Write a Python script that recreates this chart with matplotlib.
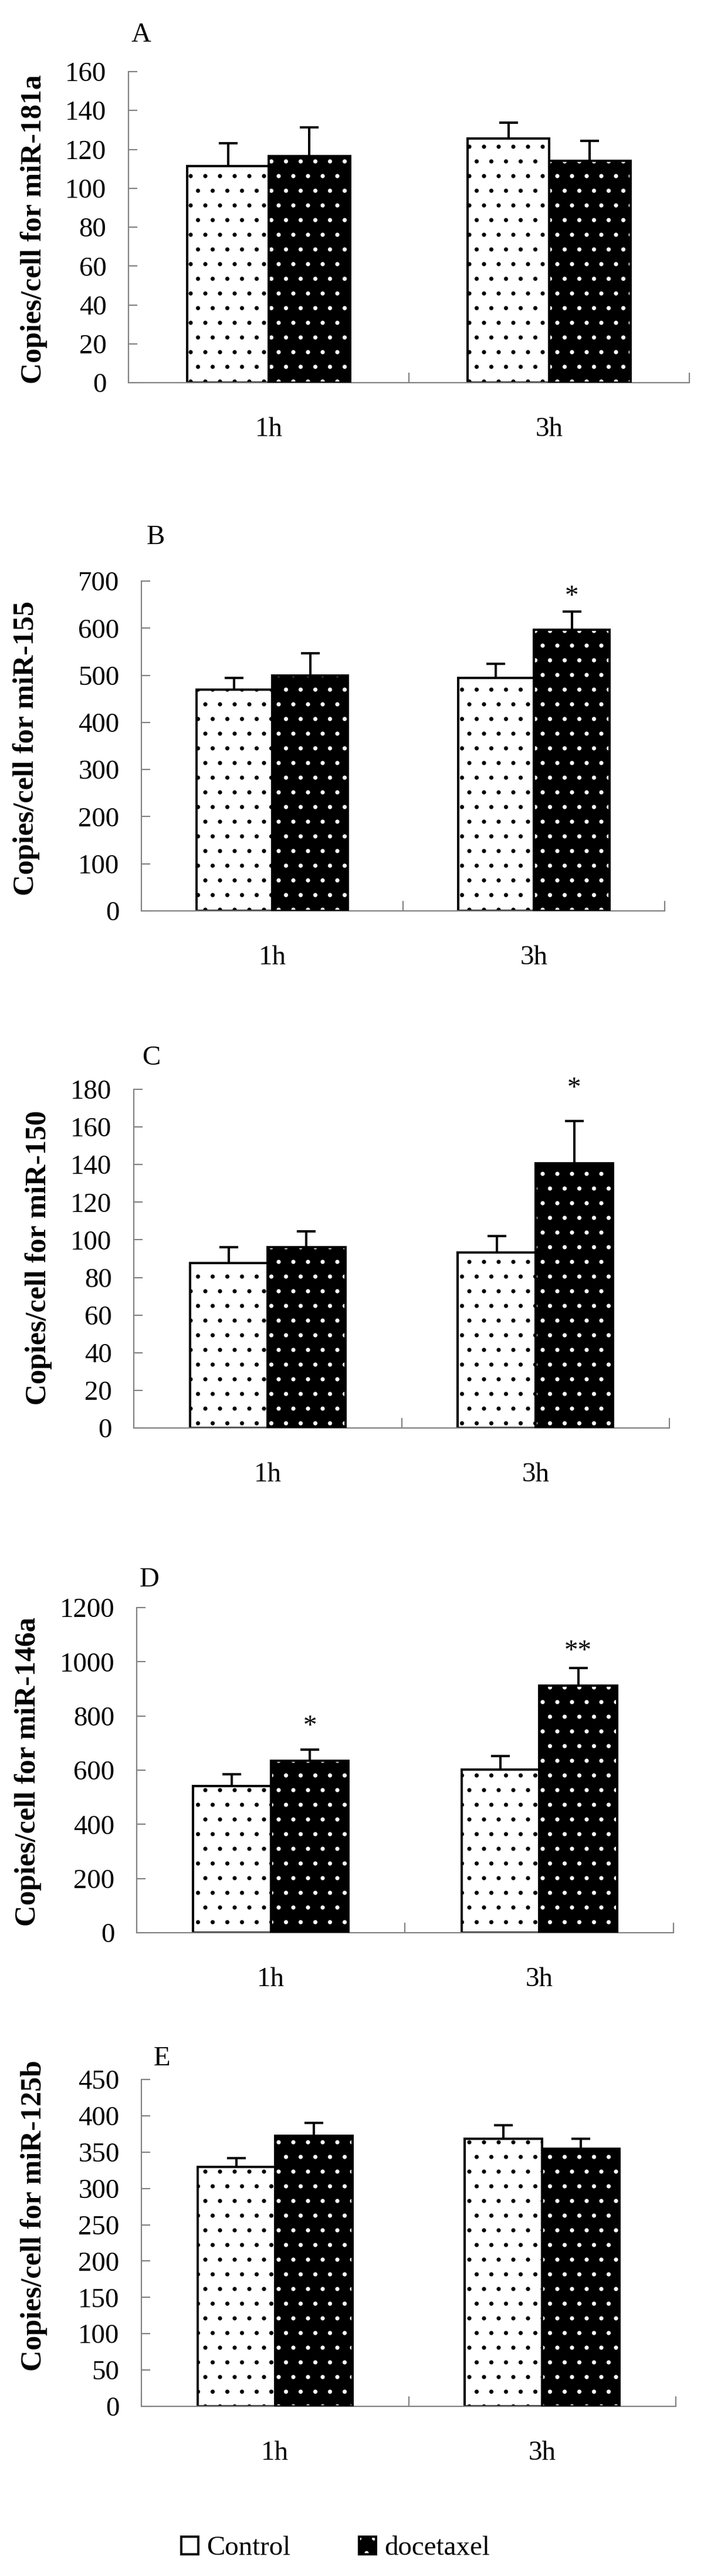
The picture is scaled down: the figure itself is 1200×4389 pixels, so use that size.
import numpy as np
import matplotlib.pyplot as plt
from matplotlib.patches import Patch

plt.rcParams['font.family'] = ['Liberation Serif', 'DejaVu Serif']
plt.rcParams['hatch.linewidth'] = 1.0

# data
groups = ["1h", "3h"]
panel_letters = ["A", "B", "C", "D", "E"]
mirnas = ["miR-181a", "miR-155", "miR-150", "miR-146a", "miR-125b"]

control_mean = [[111.5, 125.7], [470, 495], [87.7, 93.4], [541, 603], [329.7, 368.8]]
control_err = [[11.7, 8.0], [25, 29], [8.3, 8.6], [43, 48], [12.3, 18.5]]
docetaxel_mean = [[116.5, 114.2], [500, 597], [96.2, 140.6], [635, 911], [372.5, 354.3]]
docetaxel_err = [[14.8, 10.1], [47, 38], [8.2, 22.7], [41, 66], [18.1, 14.5]]

y_max = [160, 700, 180, 1200, 450]
y_step = [20, 100, 20, 200, 50]

# significance marks: (group index, text, height)
stars = [[], [(1, "*", 666)], [(1, "*", 180)], [(0, "*", 758), (1, "**", 1035)], []]

# layout, in pixels of the 1200x4389 image
W, H, DPI = 1200, 4389, 150
FS = 22.5
LW = 1.9
bw = 0.29

boxes = [(219, 1175, 122, 652), (241, 1133, 990, 1552), (228, 1141, 1856, 2433),
         (233, 1148, 2739, 3293), (241, 1152, 3543, 4100)]
letter_pos = [(223, 60), (250, 916), (242, 1803), (238, 2692), (262, 3508)]
ylabel_pos = [(58, 391), (45, 1275), (66, 2143), (48, 3019), (58, 3775)]

fig = plt.figure(figsize=(W / DPI, H / DPI), dpi=DPI)

for i in range(len(panel_letters)):
    l, r, t, b = boxes[i]
    ax = fig.add_axes([l / W, 1 - b / H, (r - l) / W, (b - t) / H])
    x = np.arange(len(groups)) + 0.5

    ax.bar(x - bw / 2, control_mean[i], bw, color="white", edgecolor="black",
           hatch=".", linewidth=LW, zorder=2)
    ax.bar(x + bw / 2, docetaxel_mean[i], bw, color="black", edgecolor="white",
           hatch=".", linewidth=0, zorder=2)
    ax.bar(x + bw / 2, docetaxel_mean[i], bw, fill=False, edgecolor="black",
           linewidth=LW, zorder=3)

    ax.errorbar(x - bw / 2, control_mean[i], yerr=[np.zeros(len(groups)), control_err[i]],
                fmt="none", ecolor="black", elinewidth=LW, capsize=7.5, capthick=LW, zorder=4)
    ax.errorbar(x + bw / 2, docetaxel_mean[i], yerr=[np.zeros(len(groups)), docetaxel_err[i]],
                fmt="none", ecolor="black", elinewidth=LW, capsize=7.5, capthick=LW, zorder=4)

    for (g, txt, yy) in stars[i]:
        ax.text(x[g] + bw / 2, yy, txt, ha="center", va="center", fontsize=FS)

    ax.set_xlim(0, len(groups))
    ax.set_xticks(np.arange(len(groups) + 1))
    ax.set_xticklabels([])
    ax.set_xticks(x, minor=True)
    ax.set_xticklabels(groups, minor=True)
    ax.tick_params(axis="x", which="major", direction="in", length=8, width=1, color="gray")
    ax.tick_params(axis="x", which="minor", length=0, pad=28, labelsize=FS)

    ax.set_ylim(0, y_max[i])
    ax.set_yticks(np.arange(0, y_max[i] + 1, y_step[i]))
    ax.tick_params(axis="y", direction="in", length=7, width=1, color="gray",
                   pad=18, labelsize=FS)

    for side in ["top", "right"]:
        ax.spines[side].set_visible(False)
    for side in ["left", "bottom"]:
        ax.spines[side].set_color("gray")
        ax.spines[side].set_linewidth(1)

    lx, ly = ylabel_pos[i]
    ax.set_ylabel("Copies/cell for " + mirnas[i], fontsize=24, fontweight="bold", va="center")
    ax.yaxis.set_label_coords((lx - l) / (r - l), (b - ly) / (b - t))

    px, py = letter_pos[i]
    fig.text(px / W, 1 - py / H, panel_letters[i], ha="left", va="center", fontsize=FS)

ctrl_handle = Patch(facecolor="white", edgecolor="black", linewidth=LW)
doc_handle = (Patch(facecolor="black", edgecolor="white", hatch=".", linewidth=0),
              Patch(fill=False, edgecolor="black", linewidth=LW))
fig.legend([ctrl_handle, doc_handle], ["Control", "docetaxel"], loc="center",
           bbox_to_anchor=(572 / W, 1 - 4342 / H), ncol=2, frameon=False, fontsize=FS,
           handlelength=0.62, handleheight=0.62, handletextpad=0.3, columnspacing=2.5)

fig.savefig("out.png", dpi=DPI)
